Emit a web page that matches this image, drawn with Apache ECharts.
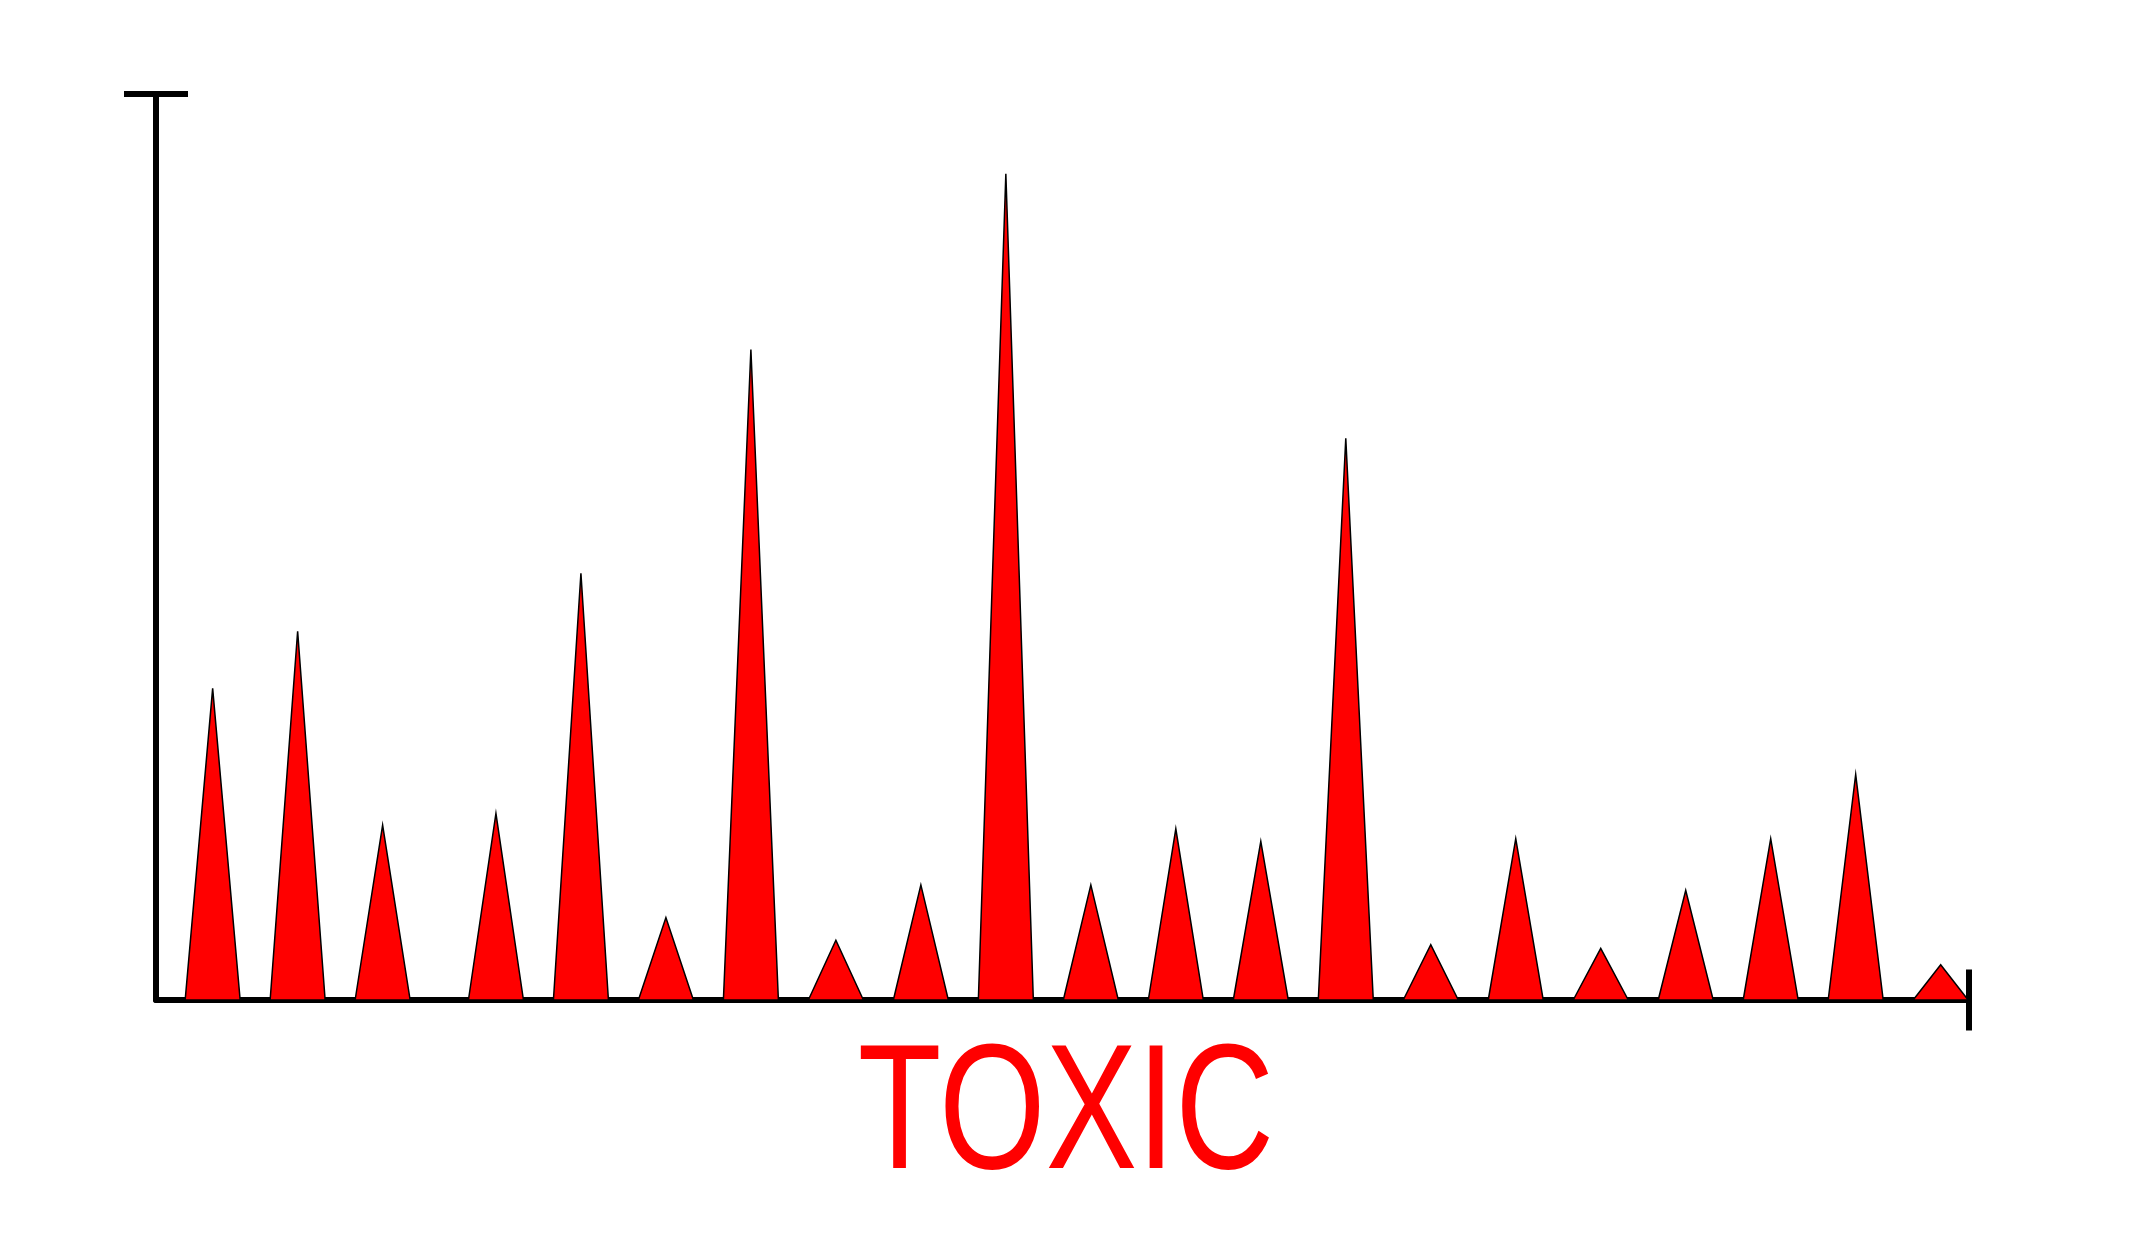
<!DOCTYPE html>
<html>
<head>
<meta charset="utf-8">
<title>TOXIC</title>
<script src="https://cdn.jsdelivr.net/npm/echarts@6/dist/echarts.min.js"></script>
<style>
  html, body { margin: 0; padding: 0; background: #ffffff; }
  #chart { width: 2134px; height: 1250px; }
</style>
</head>
<body>
<div id="chart"></div>
<script>
// x position of each spike (axis runs 0..64) and its height (axis 0..100)
const positions = [2, 5, 8, 12, 15, 18, 21, 24, 27, 30, 33, 36, 39, 42, 45, 48, 51, 54, 57, 60, 63];
const values = [34.4, 40.7, 19.3, 20.6, 47.1, 9.1, 71.8, 6.6, 12.7, 91.2, 12.7, 18.9, 17.5, 62.0, 6.1, 17.8, 5.7, 12.1, 17.8, 24.9, 3.9];
const title = 'TOXIC';

const chart = echarts.init(document.getElementById('chart'));

// spikes: a triangle per point, base fixed in pixels, apex at the value
function renderSpike(params, api) {
  const x = api.value(0);
  const apex = api.coord([x, api.value(1)]);
  const base = api.coord([x, 0]);
  const half = 27.5;
  return {
    type: 'polygon',
    shape: {
      points: [[base[0] - half, base[1]], apex, [base[0] + half, base[1]]],
    },
    style: {
      fill: '#ff0000',
      stroke: '#000',
      lineWidth: 1.5,
    },
  };
}

const option = {
  backgroundColor: '#ffffff',
  animation: false,
  grid: {
    left: 156,
    right: 165,
    top: 94,
    bottom: 250,
  },
  xAxis: {
    type: 'value',
    min: 0,
    max: 64,
    axisLine: {
      show: true,
      symbol: ['none', 'rect'],
      symbolSize: [61, 6],
      lineStyle: { color: '#000', width: 6 },
    },
    axisTick: { show: false },
    axisLabel: { show: false },
    splitLine: { show: false },
  },
  yAxis: {
    type: 'value',
    min: 0,
    max: 100,
    axisLine: {
      show: true,
      symbol: ['none', 'rect'],
      symbolSize: [64, 6],
      lineStyle: { color: '#000', width: 6 },
    },
    axisTick: { show: false },
    axisLabel: { show: false },
    splitLine: { show: false },
  },
  graphic: [
    {
      type: 'text',
      x: 1066,
      y: 1119,
      scaleX: 0.77,
      style: {
        text: title,
        fill: '#ff0000',
        font: 'normal 178px "Liberation Sans"',
        align: 'center',
        verticalAlign: 'middle',
      },
    },
  ],
  series: [
    {
      type: 'custom',
      renderItem: renderSpike,
      clip: false,
      data: positions.map((x, i) => [x, values[i]]),
    },
  ],
};

chart.setOption(option);
</script>
</body>
</html>
